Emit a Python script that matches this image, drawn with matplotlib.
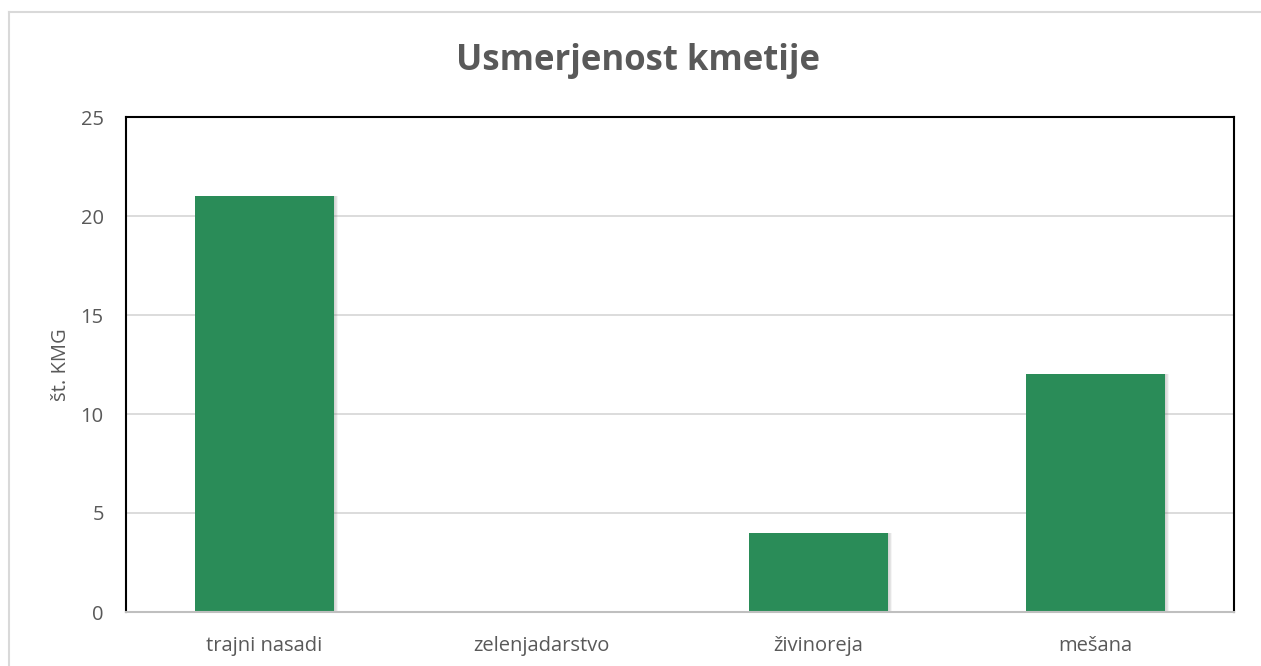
import matplotlib
matplotlib.use("Agg")
import matplotlib.pyplot as plt
from matplotlib.lines import Line2D

categories = ["trajni nasadi", "zelenjadarstvo", "živinoreja", "mešana"]
values = [21, 0, 4, 12]
yticks = [0, 5, 10, 15, 20, 25]
title = "Usmerjenost kmetije"
ylabel = "št. KMG"

plt.rcParams['font.family'] = ['Open Sans', 'DejaVu Sans']

W, H = 1261, 666
fig = plt.figure(figsize=(W / 100, H / 100), dpi=100)
ax = fig.add_axes([126 / W, 1 - 612 / H, (1234 - 126) / W, (612 - 117) / H])

x = list(range(len(categories)))
bar_color = "#2A8C58"
# soft shadow
for k in range(1, 7):
    ax.bar([i + k * 0.0025 for i in x], values, width=0.5, color="#7f7f7f",
           alpha=0.07, zorder=2, linewidth=0)
ax.bar(x, values, width=0.5, color=bar_color, zorder=3, linewidth=0)

ax.set_xlim(-0.5, len(categories) - 0.5)
ax.set_ylim(0, 25)
ax.set_yticks(yticks)
ax.set_xticks(x)
ax.set_xticklabels(categories)
ax.tick_params(axis='both', length=0, labelsize=14.5, colors="#595959")
ax.tick_params(axis='y', pad=16)
ax.tick_params(axis='x', pad=17)
ax.yaxis.grid(True, color="#d9d9d9", linewidth=1.3, zorder=1)
ax.set_axisbelow(True)

for s in ['left', 'top', 'right']:
    ax.spines[s].set_color("black")
    ax.spines[s].set_linewidth(1.5)
ax.spines['bottom'].set_color("#bfbfbf")
ax.spines['bottom'].set_linewidth(1.5)
ax.spines['bottom'].set_zorder(4)

ax.set_ylabel(ylabel, fontsize=14.5, color="#595959", labelpad=7)

fig.text(638 / W, 1 - 61 / H, title, ha='center', va='center', fontsize=25,
         fontweight='bold', color="#595959")

# outer chart border
fig.add_artist(Line2D([9 / W, 1], [1 - 12 / H, 1 - 12 / H], transform=fig.transFigure,
                      color="#d9d9d9", linewidth=1.5))
fig.add_artist(Line2D([9 / W, 9 / W], [0, 1 - 12 / H], transform=fig.transFigure,
                      color="#d9d9d9", linewidth=1.5))

fig.savefig("out.png", dpi=100, facecolor="white")
